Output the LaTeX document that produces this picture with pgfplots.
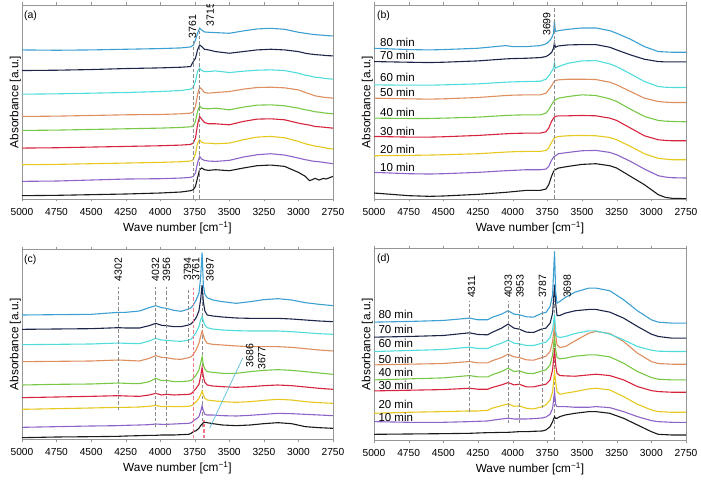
\documentclass[border=0pt]{standalone}
\usepackage{fontspec}
\setmainfont{Liberation Sans}
\usepackage{pgfplots}
\usepackage{pgfplotstable}
\pgfplotsset{compat=1.18}

\definecolor{ck}{RGB}{25,25,30}
\definecolor{cp}{RGB}{140,100,200}
\definecolor{cy}{RGB}{230,200,30}
\definecolor{cr}{RGB}{215,35,60}
\definecolor{cg}{RGB}{120,200,70}
\definecolor{co}{RGB}{222,142,95}
\definecolor{cc}{RGB}{80,220,220}
\definecolor{cn}{RGB}{28,38,75}
\definecolor{cb}{RGB}{60,160,210}
\definecolor{axisgray}{RGB}{150,150,150}
\definecolor{dashgray}{RGB}{140,140,140}
\definecolor{dashpink}{RGB}{240,120,140}
\definecolor{annblue}{RGB}{90,190,220}

% panel (a)
\pgfplotstableread{
x    k   p   y   r   g   o   c   n   b
5000 10  53  103 153 206 248 315 386 448
4750 11  54  104 154 207 249 316 387 447
4500 13  57  106 156 209 251 318 389 448
4250 15  60  108 158 211 253 320 392 450
4000 18  61  110 160 213 254 323 394 452
3850 21  63  112 162 215 256 326 396 454
3780 25  65  114 164 217 258 330 398 457
3761 28  68  118 168 220 262 336 413 462
3745 38  78  136 183 233 278 353 423 478
3730 63  108 168 223 263 313 383 448 498
3715 88  128 178 248 280 336 393 463 513
3700 93  120 170 240 273 330 386 458 508
3680 88  116 168 230 272 320 383 450 502
3650 86  114 168 226 271 318 383 448 501
3600 88  113 166 226 273 320 385 443 500
3500 85  116 168 223 268 323 380 438 498
3400 93  126 178 233 276 330 384 443 505
3300 100 133 186 240 282 335 387 448 511
3200 102 136 188 241 283 336 388 450 513
3100 98  132 184 238 280 334 386 448 510
3000 80  123 173 228 273 328 378 443 501
2950 68  118 166 224 268 320 372 438 498
2920 55  116 163 222 266 316 370 436 496
2900 58  114 161 220 264 313 368 435 495
2880 62  113 159 218 262 310 366 434 494
2850 57  112 157 217 261 308 365 433 493
2820 62  110 155 216 259 306 363 432 492
2800 60  109 153 215 258 305 362 431 491
2750 68  106 150 213 256 303 360 430 490
}\tabA

% panel (b)
\pgfplotstableread{
x    k   p   y   r   g   o   c   n   b
5000 18  80  130 188 243 303 343 413 453
4750 10  76  131 186 242 301 342 411 449
4600 8   75  132 186 242 300 342 410 448
4500 9   76  133 187 243 301 343 411 449
4250 14  80  136 191 246 305 346 415 453
4050 20  85  141 196 251 311 351 421 461
4000 22  86  142 197 252 312 352 422 458
3900 26  88  143 198 253 313 353 423 458
3800 26  88  143 198 253 313 354 425 461
3760 30  90  146 202 258 318 360 428 466
3740 43  98  153 213 268 328 370 433 473
3720 68  116 170 233 283 340 383 440 483
3705 83  126 180 243 293 350 393 453 498
3699 86  128 183 246 296 353 410 470 536
3692 88  130 185 248 298 356 393 456 503
3670 93  136 188 250 303 358 398 460 506
3600 98  140 190 250 308 360 408 463 510
3500 104 145 191 251 313 360 415 464 514
3400 106 146 190 250 311 359 416 464 514
3300 100 140 185 243 301 351 406 456 506
3250 93  133 178 236 293 343 398 448 498
3150 68  113 158 213 270 323 376 433 480
3050 43  90  136 190 248 303 353 420 458
2950 13  70  122 178 236 293 338 413 443
2900 5   66  120 176 234 291 336 412 442
2850 2   64  118 175 233 290 335 412 441
2750 1   63  118 175 232 290 335 412 441
}\tabB

% panel (c)
\pgfplotstableread{
x    k   p   y   r   g   o   c   n   b
5000 2   33  87  122 160 230 281 327 370
4750 4   35  89  124 162 231 282 328 371
4500 5   37  91  126 163 232 283 329 372
4302 6   38  93  128 166 235 286 332 378
4250 7   39  93  127 165 234 285 331 378
4150 8   40  94  126 164 232 284 331 382
4080 9   41  96  130 170 240 292 338 392
4032 9   43  99  135 180 248 300 345 398
3990 10  42  95  130 173 243 295 339 392
3956 10  42  96  132 174 242 294 338 390
3900 10  43  95  130 170 238 292 335 384
3850 11  44  95  131 170 237 291 335 381
3794 12  45  96  132 172 242 295 340 388
3775 15  47  98  134 174 245 298 344 392
3761 20  52  102 140 180 252 305 350 400
3740 23  58  110 150 190 265 318 362 415
3720 30  65  120 162 205 285 335 382 435
3708 38  80  130 185 225 305 355 415 480
3697 43  98  142 212 245 322 365 460 558
3688 47  82  130 185 220 310 352 410 460
3677 48  72  120 168 208 295 340 382 432
3660 47  70  115 160 200 285 332 370 422
3620 44  70  113 157 198 282 328 367 415
3550 40  68  110 155 195 280 325 364 410
3450 38  67  108 153 195 277 323 361 405
3350 40  69  110 155 200 275 322 360 410
3250 44  72  114 158 204 275 322 360 416
3150 47  75  117 160 206 275 322 360 419
3050 44  74  115 158 204 273 320 358 415
2950 35  72  110 154 200 269 317 355 407
2850 32  70  107 150 196 265 314 352 402
2750 30  68  105 147 192 262 312 350 398
}\tabC

% panel (d)
\pgfplotstableread{
x    k   p   y   r   g   o   c   n   b
5000 17  55  80  147 180 225 265 308 353
4750 18  53  83  149 183 227 268 310 355
4500 19  53  85  151 186 229 271 313 358
4311 20  55  87  155 193 235 278 321 365
4250 21  56  87  152 189 231 274 316 360
4180 22  57  89  152 189 231 274 315 360
4150 22  59  95  157 195 237 280 322 367
4080 23  63  103 165 205 247 290 335 377
4033 23  65  108 172 215 257 299 347 387
3990 24  63  101 165 205 249 290 335 377
3953 25  63  102 167 207 247 288 332 375
3900 25  63  95  159 200 240 283 323 369
3850 26  64  93  159 199 239 283 322 368
3787 27  66  100 165 207 247 290 333 380
3760 30  69  105 167 210 251 293 335 382
3730 40  77  120 180 225 265 307 350 400
3712 55  95  145 210 255 295 330 380 435
3698 70  145 203 275 315 347 377 465 565
3690 65  107 175 225 270 315 325 410 445
3680 65  100 145 200 247 285 310 373 410
3660 70  100 137 193 243 277 307 373 415
3620 75  100 140 192 245 280 310 380 427
3550 80  98  145 191 251 297 319 387 443
3450 85  98  153 195 255 320 327 391 455
3400 85  100 155 197 255 325 327 391 455
3300 80  97  150 193 249 319 317 383 447
3200 65  85  130 180 230 295 300 365 420
3100 45  70  107 160 205 260 280 340 387
3000 25  58  90  148 187 235 269 317 360
2950 17  55  85  145 182 229 266 310 353
2850 15  53  83  143 180 227 265 305 350
2750 15  53  83  143 180 227 265 305 350
}\tabD

\pgfplotsset{
  irpanel/.style={
    scale only axis,
    x dir=reverse, xmin=2750, xmax=5000,
    xtick={2750,3000,...,5000},
    ytick=\empty,
    tick align=outside, major tick length=2.5pt,
    axis line style={draw=axisgray},
    tick style={draw=axisgray},
    xticklabel style={font=\fontsize{10.2}{12}\selectfont, yshift=-3pt},
    /pgf/number format/1000 sep={},
    /pgf/number format/assume math mode=true,
    label style={font=\fontsize{11.8}{14}\selectfont},
    xlabel={Wave number [cm\textsuperscript{−1}]},
    ylabel={Absorbance [a.u.]},
    xlabel style={at={(axis description cs:0.5,0)}, anchor=north, yshift=-19pt},
    ylabel style={at={(axis description cs:0,0.5)}, anchor=south, inner sep=1pt},
    every axis plot/.append style={line width=1.1pt, no markers},
  },
  dashline/.style={draw=dashgray, dash pattern=on 3.5pt off 2pt, line width=0.9pt, forget plot},
  pinkline/.style={draw=dashpink, dash pattern=on 3.5pt off 2pt, line width=0.9pt, forget plot},
}
\tikzset{
  peaklab/.style={rotate=90, anchor=west, inner sep=0pt, font=\fontsize{10.5}{12}\selectfont},
  minlab/.style={anchor=west, inner sep=0pt, font=\fontsize{11.5}{13}\selectfont},
  panlab/.style={anchor=north west, inner sep=1pt, font=\fontsize{10.5}{12}\selectfont},
}

\newcommand{\curves}[1]{%
  \addplot[ck] table[x=x,y=k]{#1};
  \addplot[cp] table[x=x,y=p]{#1};
  \addplot[cy] table[x=x,y=y]{#1};
  \addplot[cr] table[x=x,y=r]{#1};
  \addplot[cg] table[x=x,y=g]{#1};
  \addplot[co] table[x=x,y=o]{#1};
  \addplot[cc] table[x=x,y=c]{#1};
  \addplot[cn] table[x=x,y=n]{#1};
  \addplot[cb] table[x=x,y=b]{#1};
}

\begin{document}
\begin{tikzpicture}
\useasboundingbox (0pt,0pt) rectangle (701pt,479pt);

% (a)
\begin{axis}[irpanel, at={(22pt,280pt)}, anchor=south west,
  width=311pt, height=194pt, ymin=0, ymax=583]
  \curves{\tabA}
  \addplot[dashline] coordinates {(3761,0) (3761,478)};
  \addplot[dashline] coordinates {(3715,0) (3715,505)};
  \node[panlab] at (axis description cs:0.003,0.975) {(a)};
  \node[peaklab] at (axis cs:3767,483) {3761};
  \node[peaklab] at (axis cs:3638,518) {3715};
\end{axis}

% (b)
\begin{axis}[irpanel, at={(374pt,280pt)}, anchor=south west,
  width=312pt, height=194pt, ymin=0, ymax=583]
  \curves{\tabB}
  \addplot[dashline] coordinates {(3699,0) (3699,578)};
  \node[panlab] at (axis description cs:0.006,0.975) {(b)};
  \node[peaklab] at (axis cs:3755,490) {3699};
  \node[minlab] at (axis cs:4957,470) {80 min};
  \node[minlab] at (axis cs:4957,433) {70 min};
  \node[minlab] at (axis cs:4957,365) {60 min};
  \node[minlab] at (axis cs:4957,320) {50 min};
  \node[minlab] at (axis cs:4957,260) {40 min};
  \node[minlab] at (axis cs:4957,202) {30 min};
  \node[minlab] at (axis cs:4957,148) {20 min};
  \node[minlab] at (axis cs:4957,95) {10 min};
\end{axis}

% (c)
\begin{axis}[irpanel, at={(22pt,40pt)}, anchor=south west,
  width=311pt, height=190pt, ymin=-2, ymax=568]
  \addplot[dashline] coordinates {(3697,35) (3697,455)};
  \curves{\tabC}
  \addplot[dashline] coordinates {(4302,85) (4302,455)};
  \addplot[dashline] coordinates {(4032,35) (4032,455)};
  \addplot[dashline] coordinates {(3956,35) (3956,455)};
  \addplot[dashline] coordinates {(3794,270) (3794,450)};
  \addplot[pinkline] coordinates {(3761,0) (3761,450)};
  \addplot[pinkline] coordinates {(3686,0) (3686,55)};
  \addplot[pinkline] coordinates {(3677,0) (3677,55)};
  \draw[annblue, line width=0.7pt] (axis cs:3642,31) -- (axis cs:3403,241);
  \node[panlab] at (axis description cs:0.003,0.975) {(c)};
  \node[peaklab] at (axis cs:4304,470) {4302};
  \node[peaklab] at (axis cs:4034,470) {4032};
  \node[peaklab] at (axis cs:3955,470) {3956};
  \node[peaklab] at (axis cs:3802,472) {3794};
  \node[peaklab] at (axis cs:3742,472) {3761};
  \node[peaklab] at (axis cs:3640,470) {3697};
  \node[peaklab] at (axis cs:3353,213) {3686};
  \node[peaklab] at (axis cs:3266,205) {3677};
\end{axis}

% (d)
\begin{axis}[irpanel, at={(374pt,39pt)}, anchor=south west,
  width=312pt, height=192pt, ymin=0, ymax=575]
  \addplot[dashline] coordinates {(3698,0) (3698,415)};
  \curves{\tabD}
  \addplot[dashline] coordinates {(4311,85) (4311,415)};
  \addplot[dashline] coordinates {(4033,50) (4033,415)};
  \addplot[dashline] coordinates {(3953,50) (3953,415)};
  \addplot[dashline] coordinates {(3787,95) (3787,415)};
  \node[panlab] at (axis description cs:0.006,0.975) {(d)};
  \node[peaklab] at (axis cs:4296,425) {4311};
  \node[peaklab] at (axis cs:4031,425) {4033};
  \node[peaklab] at (axis cs:3947,425) {3953};
  \node[peaklab] at (axis cs:3784,425) {3787};
  \node[peaklab] at (axis cs:3606,425) {3698};
  \node[minlab] at (axis cs:4969,375) {80 min};
  \node[minlab] at (axis cs:4969,332) {70 min};
  \node[minlab] at (axis cs:4969,290) {60 min};
  \node[minlab] at (axis cs:4969,240) {50 min};
  \node[minlab] at (axis cs:4969,202) {40 min};
  \node[minlab] at (axis cs:4969,165) {30 min};
  \node[minlab] at (axis cs:4969,107) {20 min};
  \node[minlab] at (axis cs:4969,67) {10 min};
\end{axis}
\end{tikzpicture}
\end{document}
